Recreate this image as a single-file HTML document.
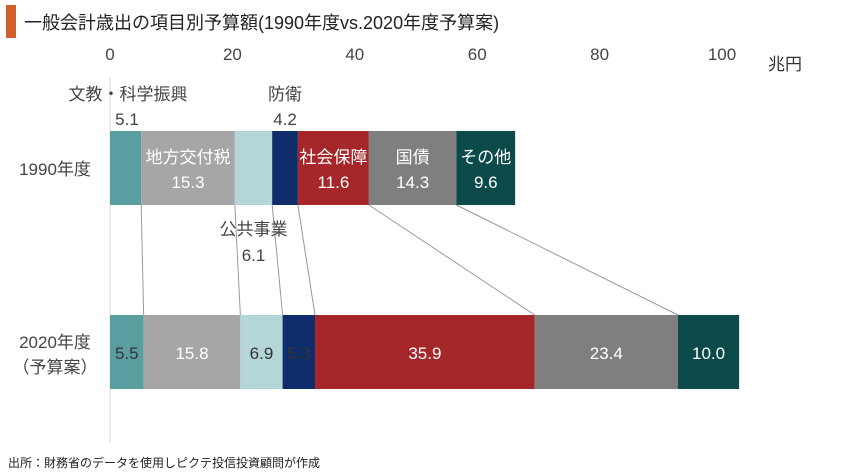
<!DOCTYPE html>
<html><head><meta charset="utf-8"><style>
body{margin:0;background:#fff;}
svg{display:block;font-family:"Liberation Sans","Noto Sans CJK JP",sans-serif;}
</style></head><body>
<svg id="c" width="850" height="475">
<rect x="6" y="5" width="10" height="33" fill="#d0602a"/>
<text x="24" y="29" font-size="18" fill="#222">一般会計歳出の項目別予算額(1990年度vs.2020年度予算案)</text>
<text x="768" y="70" font-size="17" fill="#333">兆円</text>
<text x="8" y="467" font-size="12" fill="#222">出所：財務省のデータを使用しピクテ投信投資顧問が作成</text>
</svg>
<script>
const categories=["文教・科学振興","地方交付税","公共事業","防衛","社会保障","国債","その他"];
const values1990=[5.1,15.3,6.1,4.2,11.6,14.3,9.6];
const values2020=[5.5,15.8,6.9,5.3,35.9,23.4,10.0];
const ticks=[0,20,40,60,80,100];
const colors=["#5b9ea1","#a6a6a6","#b4d6d9","#0f2d6b","#a5272a","#7f7f7f","#0b4a4a"];
const txt2020=["#333","#fff","#333","#333","#fff","#fff","#fff"];
const NS="http://www.w3.org/2000/svg";
const svg=document.getElementById('c');
const x=v=>110+v*6.12;
const Y1=131,Y2=315,H=74;
function el(t,a,p){const e=document.createElementNS(NS,t);for(const k in a)e.setAttribute(k,a[k]);(p||svg).appendChild(e);return e;}
function tx(s,X,Yy,size,fill,anchor){const e=el('text',{x:X,y:Yy,'font-size':size,fill:fill,'text-anchor':anchor||'middle'});e.textContent=s;return e;}
const ax=el('line',{x1:110,y1:77,x2:110,y2:443,stroke:'#d9d9d9','stroke-width':1});


ticks.forEach(t=>{const e=tx(String(t),x(t),60,17,'#444');

});
const t1=tx('1990年度',55,175,17,'#444');


const t2=tx('2020年度',55,348,17,'#444');


const t3=tx('（予算案）',55,373,17,'#444');


let c1=0,c2=0;
categories.forEach((cat,i)=>{
  const a1=c1,a2=c2;c1+=values1990[i];c2+=values2020[i];
  if(i<categories.length-1){const l=el('line',{x1:x(c1),y1:Y1+H,x2:x(c2),y2:Y2,stroke:'#999','stroke-width':1});
  
  }
  const r1=el('rect',{x:x(a1),y:Y1,width:x(c1)-x(a1),height:H,fill:colors[i]});
  
  
  const r2=el('rect',{x:x(a2),y:Y2,width:x(c2)-x(a2),height:H,fill:colors[i]});
  
  
  const m1=(x(a1)+x(c1))/2,m2=(x(a2)+x(c2))/2;
  const v2=tx(values2020[i].toFixed(1),m2,359,17,txt2020[i]);
  
  
  let ly,vy,fill='#fff';
  if(i==0||i==3){ly=100;vy=125;fill='#444';}
  else if(i==2){ly=235;vy=261;fill='#444';}
  else{ly=163;vy=188;}
  const lx=i==0?128:(i==1?m1:m1);
  const n=tx(cat,lx,ly,17,fill);
  
  
  const v=tx(values1990[i].toFixed(1),i==0?127:m1,vy,17,fill);
  
  
});
</script>
</body></html>
